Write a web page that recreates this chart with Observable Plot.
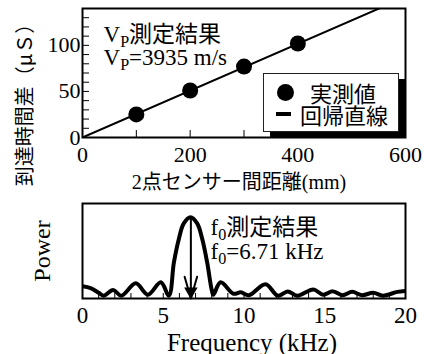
<!DOCTYPE html>
<html>
<head>
<meta charset="utf-8">
<script src="https://cdn.jsdelivr.net/npm/d3@7"></script>
<script src="https://cdn.jsdelivr.net/npm/@observablehq/plot@0.6"></script>
<style>
  body { margin: 0; background: #fff; }
  #wrap { position: relative; width: 437px; height: 354px; overflow: hidden; }
  #wrap svg { overflow: visible; }
  .legend { position: absolute; left: 263px; top: 73px; width: 136px; height: 59px; box-sizing: border-box;
    border: 1px solid #222; background: #fff; box-shadow: 7px 6px 0 #000;
    font-family: "Noto Sans CJK JP", sans-serif; font-size: 22px; color: #000; }
  .legend .sw-dot { position: absolute; left: 13px; top: 10px; width: 17px; height: 17px; border-radius: 50%; background: #000; }
  .legend .sw-line { position: absolute; left: 12px; top: 38px; width: 15px; height: 4px; background: #000; }
  .legend .lab { position: absolute; display: block; height: 21px; line-height: 21px; white-space: nowrap; }
</style>
</head>
<body>
<div id="wrap"></div>
<script>
// ---- top panel data: P-wave travel time vs. sensor spacing
const distances = [100, 200, 300, 400];            // mm
const travelTimes = [25, 51, 77, 102];              // μs
const fitDistances = [0, 600];                      // regression line ends (mm)
const fitTimes = [0, 152.5];                        // μs
const topXTicks = [0, 200, 400, 600];
const topXMinor = [0, 100, 200, 300, 400, 500, 600];
const topYTicks = [0, 50, 100];
const topYMinor = [0, 10, 20, 30, 40, 50, 60, 70, 80, 90, 100, 110, 120, 130, 140];

// ---- bottom panel data: power spectrum
const freqs = [0, 0.5, 1.0, 1.3, 1.9, 2.4, 3.3, 4.05, 4.85, 5.35, 5.66, 5.97, 6.27, 6.69, 7.1, 7.41, 7.72, 7.99, 8.1,
               8.55, 9.35, 9.8, 10.3, 11.33, 12.1, 12.7, 13.3, 14.3, 14.9, 15.5, 16.1, 16.7, 17.3, 18.0, 18.6, 19.5, 20];
const power = [0.13, 0.11, 0.06, 0.03, 0.09, 0.03, 0.16, 0.04, 0.17, 0.03, 0.38, 0.63, 0.79, 0.855, 0.79, 0.63, 0.38, 0.1, 0.04,
               0.17, 0.05, 0.065, 0.035, 0.15, 0.03, 0.075, 0.03, 0.095, 0.04, 0.075, 0.035, 0.07, 0.035, 0.06, 0.03, 0.07, 0.08];
const f0 = 6.71;
const f0Peak = 0.85;
const botXTicks = [0, 5, 10, 15, 20];
const botXMinor = [0,1,2,3,4,5,6,7,8,9,10,11,12,13,14,15,16,17,18,19,20];

const yLabelTop = "到達時間差（μＳ）";
const SERIF = '"Liberation Serif", "Times New Roman", "Noto Sans CJK JP", serif';
const SANS = '"Noto Sans CJK JP", sans-serif';

const pts = distances.map((d, i) => ({d, t: travelTimes[i]}));
const fit = fitDistances.map((d, i) => ({d, t: fitTimes[i]}));
const spec = freqs.map((f, i) => ({f, p: power[i]}));

function postText(svg) {
  d3.select(svg).selectAll("text").each(function() {
    const el = d3.select(this);
    const t = this.textContent;
    el.style("font-family", t === yLabelTop ? SANS : SERIF);
    const parts = t.split(/_(.)/);
    el.text(null);
    parts.forEach((p, i) => {
      if (!p) return;
      const ts = el.append("tspan").text(p);
      if (i % 2 === 1) ts.attr("font-size", "0.7em").attr("dy", 5);
      else if (i > 0) ts.attr("dy", -5);
    });
  });
}

const topPlot = Plot.plot({
  width: 437, height: 195,
  marginLeft: 82, marginRight: 32, marginTop: 8, marginBottom: 58,
  x: {domain: [0, 600], axis: null},
  y: {domain: [0, 140], axis: null},
  style: {background: "transparent", color: "#000", overflow: "visible"},
  marks: [
    Plot.axisX({ticks: topXTicks, tickSize: 0, tickPadding: 9, fontSize: 22, label: null}),
    Plot.axisX({ticks: topXMinor, tickSize: -7, fill: "none", label: null}),
    Plot.axisY({ticks: topYTicks, tickSize: 0, tickPadding: 2, fontSize: 22, label: null}),
    Plot.axisY({ticks: topYMinor, tickSize: -7, fill: "none", label: null}),
    Plot.line(fit, {x: "d", y: "t", stroke: "#000", strokeWidth: 2, clip: true}),
    Plot.dot(pts, {x: "d", y: "t", r: 8, fill: "#000"}),
    Plot.frame({stroke: "#000", strokeWidth: 2}),
    Plot.text(["V_P測定結果"], {frameAnchor: "top-left", dx: 21, dy: 17, lineAnchor: "top", textAnchor: "start", fontSize: 23}),
    Plot.text(["V_P=3935 m/s"], {frameAnchor: "top-left", dx: 21, dy: 40, lineAnchor: "top", textAnchor: "start", fontSize: 23}),
    Plot.text(["2点センサー間距離(mm)"], {frameAnchor: "bottom", dx: -5, dy: 45, lineAnchor: "middle", textAnchor: "middle", fontSize: 20}),
    Plot.text([yLabelTop], {frameAnchor: "left", dx: -57, dy: 27, rotate: -90, lineAnchor: "middle", textAnchor: "middle", fontSize: 20})
  ]
});
postText(topPlot);

const bottomPlot = Plot.plot({
  width: 437, height: 159,
  marginLeft: 82, marginRight: 32, marginTop: 8, marginBottom: 56,
  x: {domain: [0, 20], axis: null},
  y: {domain: [0, 1], axis: null},
  style: {background: "transparent", color: "#000", overflow: "visible"},
  marks: [
    Plot.axisX({ticks: botXTicks, tickSize: 0, tickPadding: 8, fontSize: 23, label: null}),
    Plot.axisX({ticks: botXMinor, tickSize: -5, fill: "none", label: null}),
    Plot.line(spec, {x: "f", y: "p", stroke: "#000", strokeWidth: 4, curve: "catmull-rom", clip: true}),
    Plot.arrow([{f: f0, top: f0Peak, base: 0}], {x1: "f", y1: "top", x2: "f", y2: "base", stroke: "#000", strokeWidth: 2, headLength: 17, headAngle: 32}),
    Plot.dot([{f: f0, base: 0}], {x: "f", y: "base", symbol: "triangle", rotate: 180, r: 5, dy: -7, fill: "#000"}),
    Plot.frame({stroke: "#000", strokeWidth: 2}),
    Plot.text(["f_0測定結果"], {frameAnchor: "top-left", dx: 128, dy: 15, lineAnchor: "top", textAnchor: "start", fontSize: 23}),
    Plot.text(["f_0=6.71 kHz"], {frameAnchor: "top-left", dx: 128, dy: 39, lineAnchor: "top", textAnchor: "start", fontSize: 23}),
    Plot.text(["Frequency (kHz)"], {frameAnchor: "bottom", dx: 8, dy: 44, lineAnchor: "middle", textAnchor: "middle", fontSize: 25}),
    Plot.text(["Power"], {frameAnchor: "left", dx: -40, rotate: -90, lineAnchor: "middle", textAnchor: "middle", fontSize: 24})
  ]
});
postText(bottomPlot);

const wrap = document.getElementById("wrap");
wrap.appendChild(topPlot);
wrap.appendChild(bottomPlot);

const legend = document.createElement("div");
legend.className = "legend";
legend.innerHTML = '<span class="sw-dot"></span><span class="lab" style="left:46px;top:8px">実測値</span>' +
                   '<span class="sw-line"></span><span class="lab" style="left:36px;top:29.5px">回帰直線</span>';
wrap.appendChild(legend);
</script>
</body>
</html>
